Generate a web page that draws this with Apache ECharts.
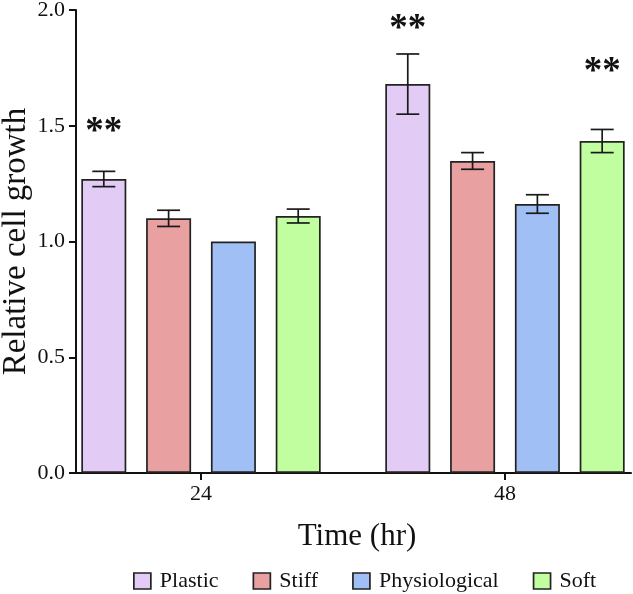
<!DOCTYPE html>
<html>
<head>
<meta charset="utf-8">
<script src="https://cdn.jsdelivr.net/npm/echarts@6/dist/echarts.min.js"></script>
<style>html,body{margin:0;padding:0;background:#fff;}#c{width:633px;height:594px;}</style>
</head>
<body>
<div id="c"></div>
<script>
// ---- data ----
const times = [24, 48];
const groups = ['Plastic', 'Stiff', 'Physiological', 'Soft'];
const plasticMean = [1.27, 1.68];
const plasticErr = [0.033, 0.13];
const stiffMean = [1.10, 1.348];
const stiffErr = [0.035, 0.036];
const physioMean = [1.0, 1.162];
const physioErr = [0, 0.04];
const softMean = [1.11, 1.434];
const softErr = [0.03, 0.05];
// significance markers: y position (in axis units) per time, null = none
const plasticStars = [1.503, 1.946];
const stiffStars = [null, null];
const physioStars = [null, null];
const softStars = [null, 1.762];
const yTicks = [0, 0.5, 1.0, 1.5, 2.0];

// ---- styling / layout ----
const FONT = "'Liberation Serif', 'Times New Roman', serif";
const colors = ['#E2CBF5', '#E8A0A0', '#A0BFF5', '#C0FEA0'];
const BAR_W = 45;
const GAP = 0.44;
const STEP = BAR_W * (1 + GAP);
const means = [plasticMean, stiffMean, physioMean, softMean];
const errs = [plasticErr, stiffErr, physioErr, softErr];
const stars = [plasticStars, stiffStars, physioStars, softStars];

const series = [];
groups.forEach((g, i) => {
  series.push({
    name: g, type: 'bar', barWidth: BAR_W, barGap: (GAP * 100) + '%',
    itemStyle: { color: colors[i], borderColor: '#222', borderWidth: 1.7 },
    data: times.map((t, j) => [t, means[i][j]]),
    emphasis: { disabled: true }
  });
});
groups.forEach((g, i) => {
  const off = (i - 1.5) * STEP;
  series.push({
    type: 'custom', z: 10, silent: true,
    data: times.map((t, j) => [t, means[i][j], errs[i][j]]),
    renderItem: (params, api) => {
      const x = api.value(0), m = api.value(1), e = api.value(2);
      if (!e) return null;
      const top = api.coord([x, m + e]);
      const bot = api.coord([x, m - e]);
      const cx = top[0] + off;
      const hw = 11.5;
      const st = { stroke: '#1a1a1a', lineWidth: 1.7 };
      return { type: 'group', children: [
        { type: 'line', shape: { x1: cx, y1: top[1], x2: cx, y2: bot[1] }, style: st },
        { type: 'line', shape: { x1: cx - hw, y1: top[1], x2: cx + hw, y2: top[1] }, style: st },
        { type: 'line', shape: { x1: cx - hw, y1: bot[1], x2: cx + hw, y2: bot[1] }, style: st }
      ]};
    }
  });
  series.push({
    type: 'custom', z: 10, silent: true,
    data: times.map((t, j) => [t, stars[i][j] == null ? '-' : stars[i][j]]),
    renderItem: (params, api) => {
      const y = api.value(1);
      if (isNaN(y)) return null;
      const p = api.coord([api.value(0), y]);
      return { type: 'text', x: p[0] + off, y: p[1] + 7,
        style: { text: '**', fill: '#111', font: 'bold 37px ' + FONT, align: 'center', verticalAlign: 'middle' } };
    }
  });
});

const chart = echarts.init(document.getElementById('c'));
chart.setOption({
  animation: false,
  backgroundColor: '#fff',
  grid: { left: 76, right: 2, top: 10, bottom: 121, containLabel: false, outerBoundsMode: 'none' },
  xAxis: {
    type: 'value', min: 14.13, max: 57.95,
    name: 'Time (hr)', nameLocation: 'middle', nameGap: 48, nameMoveOverlap: false,
    nameTextStyle: { fontFamily: FONT, fontSize: 31, color: '#111', padding: [0, 0, 0, 7] },
    axisLine: { show: true, onZero: false, lineStyle: { color: '#111', width: 2 } },
    axisTick: { show: true, length: 7, customValues: times, lineStyle: { color: '#111', width: 2 } },
    axisLabel: { customValues: times, fontFamily: FONT, fontSize: 22, color: '#111', margin: 10 },
    splitLine: { show: false }
  },
  yAxis: {
    type: 'value', min: 0, max: 2, interval: 0.5,
    name: 'Relative cell growth', nameLocation: 'middle', nameGap: 43, nameMoveOverlap: false,
    nameTextStyle: { fontFamily: FONT, fontSize: 33, color: '#111' },
    axisLine: { show: true, lineStyle: { color: '#111', width: 2 } },
    axisTick: { show: true, length: 7, lineStyle: { color: '#111', width: 2 } },
    axisLabel: { fontFamily: FONT, fontSize: 22, color: '#111', margin: 11,
      formatter: v => yTicks.includes(v) ? v.toFixed(1) : '' },
    splitLine: { show: false }
  },
  legend: {
    data: groups, left: 133, top: 570, padding: 0, icon: 'rect', itemWidth: 17, itemHeight: 16, itemGap: 34,
    textStyle: { fontFamily: FONT, fontSize: 22, color: '#111', padding: [0, 0, 0, 4] },
    itemStyle: { borderColor: '#222', borderWidth: 1.7 }, selectedMode: false
  },
  series: series
});
</script>
</body>
</html>
